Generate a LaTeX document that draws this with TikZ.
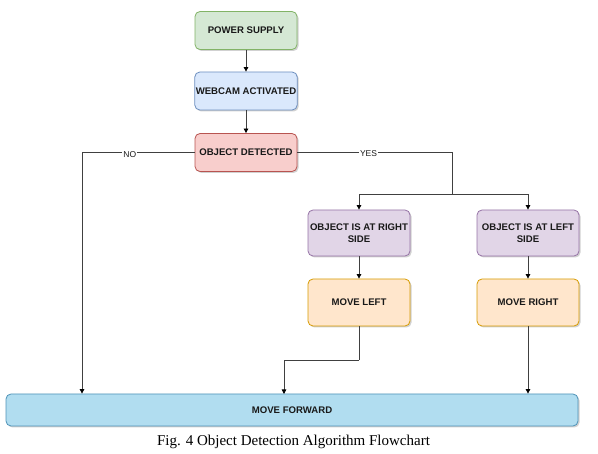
\documentclass[tikz,border=0pt]{standalone}
\usepackage{fontspec}
\setmainfont{Liberation Serif}
\setsansfont{Liberation Sans}
\usepackage{xcolor}
\usepackage{tikz}
\usetikzlibrary{arrows.meta,positioning,calc,shadows}

\definecolor{greenfill}{HTML}{D5E8D4}\definecolor{greenline}{HTML}{82B366}
\definecolor{bluefill}{HTML}{DAE8FC}\definecolor{blueline}{HTML}{6C8EBF}
\definecolor{redfill}{HTML}{F8CECC}\definecolor{redline}{HTML}{B85450}
\definecolor{purplefill}{HTML}{E1D5E7}\definecolor{purpleline}{HTML}{9673A6}
\definecolor{orangefill}{HTML}{FFE6CC}\definecolor{orangeline}{HTML}{D79B00}
\definecolor{cyanfill}{HTML}{B1DDF0}\definecolor{cyanline}{HTML}{4F93B8}

\tikzset{
    flowbox/.style={draw, rounded corners=5pt, line width=0.8pt, align=center,
        inner sep=1pt, text=black!90, font=\sffamily\bfseries\fontsize{9.6}{12}\selectfont,
        drop shadow={shadow xshift=1.5pt, shadow yshift=-1.5pt, fill=black, opacity=0.18}},
    conn/.style={line width=0.8pt, black!75},
    arr/.style={conn, -{Triangle[length=4.5pt, width=4.5pt, black]}},
    lbl/.style={fill=white, inner sep=1pt, font=\sffamily\fontsize{8.5}{10}\selectfont, text=black!90}
}

\begin{document}
\begin{tikzpicture}[x=1pt, y=-1pt]
    \useasboundingbox (0,0) rectangle (598,454);

    % main column
    \node[flowbox, fill=greenfill, draw=greenline, minimum width=102pt, minimum height=38pt] (power) at (246,30.5) {POWER SUPPLY};
    \node[flowbox, fill=bluefill, draw=blueline, minimum width=102pt, minimum height=38pt] (webcam) at (246,91) {WEBCAM ACTIVATED};
    \node[flowbox, fill=redfill, draw=redline, minimum width=102pt, minimum height=38pt] (detect) at (246,152.5) {OBJECT DETECTED};

    % branches
    \node[flowbox, fill=purplefill, draw=purpleline, minimum width=102pt, minimum height=46pt] (rightside) at (359,233) {OBJECT IS AT RIGHT\\SIDE};
    \node[flowbox, fill=purplefill, draw=purpleline, minimum width=102pt, minimum height=46pt] (leftside) at (528,233) {OBJECT IS AT LEFT\\SIDE};
    \node[flowbox, fill=orangefill, draw=orangeline, minimum width=102pt, minimum height=47pt] (moveleft) at (359,302.5) {MOVE LEFT};
    \node[flowbox, fill=orangefill, draw=orangeline, minimum width=102pt, minimum height=47pt] (moveright) at (528,302.5) {MOVE RIGHT};

    % bottom bar
    \node[flowbox, fill=cyanfill, draw=cyanline, minimum width=572pt, minimum height=32pt] (forward) at (292,410) {MOVE FORWARD};

    % turning points
    \coordinate (noturn) at (82,152.5);
    \coordinate (yesturn) at (452,152.5);
    \coordinate (split) at (452,194);
    \coordinate (leftturn) at (359,360);
    \coordinate (leftin) at (284,394);

    % connectors
    \draw[arr] (power) -- (webcam);
    \draw[arr] (webcam) -- (detect);
    \draw[arr] (detect.west) -- node[lbl, pos=0.575, yshift=-2pt] {NO} (noturn) -- (noturn |- forward.north);
    \draw[conn] (detect.east) -- node[lbl, pos=0.46, yshift=-1pt] {YES} (yesturn) -- (split);
    \draw[arr] (split) -| (rightside.north);
    \draw[arr] (split) -| (leftside.north);
    \draw[arr] (rightside) -- (moveleft);
    \draw[arr] (leftside) -- (moveright);
    \draw[conn] (moveleft.south) -- (leftturn);
    \draw[arr] (leftturn) -| (leftin);
    \draw[arr] (moveright.south) -- (moveright.south |- forward.north);

    % caption
    \node[font=\fontsize{15}{18}\selectfont, anchor=base] (caption) at (293.5,446) {Fig. 4 Object Detection Algorithm Flowchart};
\end{tikzpicture}
\end{document}
